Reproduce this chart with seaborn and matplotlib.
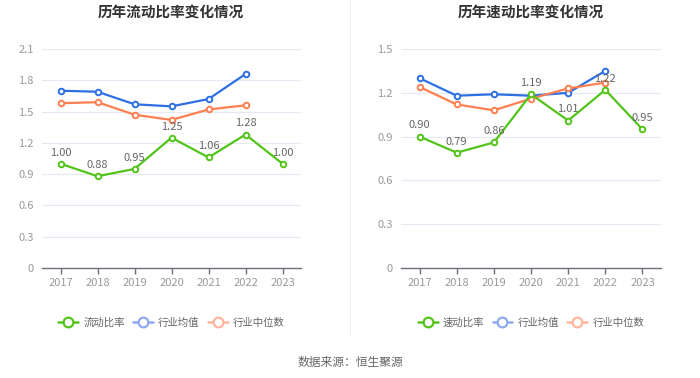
import numpy as np
import pandas as pd
import matplotlib
matplotlib.use("Agg")
import matplotlib.pyplot as plt
from matplotlib.lines import Line2D
import seaborn as sns

years = ['2017', '2018', '2019', '2020', '2021', '2022', '2023']

# 流动比率
current_ratio = [1.00, 0.88, 0.95, 1.25, 1.06, 1.28, 1.00]
current_avg = [1.70, 1.69, 1.57, 1.55, 1.62, 1.86]
current_median = [1.58, 1.59, 1.47, 1.42, 1.52, 1.56]

# 速动比率
quick_ratio = [0.90, 0.79, 0.86, 1.19, 1.01, 1.22, 0.95]
quick_avg = [1.30, 1.18, 1.19, 1.18, 1.20, 1.35]
quick_median = [1.24, 1.12, 1.08, 1.16, 1.23, 1.27]

GREEN = '#52C41A'
BLUE = '#2F6FE4'
ORANGE = '#FF7F50'
BLUE_LIGHT = '#8DAAF2'
ORANGE_LIGHT = '#FFB59E'

sns.set_style("white")
plt.rcParams['font.family'] = ['Noto Sans CJK SC', 'DejaVu Sans']


def draw_panel(ax, title, main_name, main_vals, avg_vals, med_vals, ymax, title_x):
    x = np.arange(len(years))
    df = pd.DataFrame({'x': x, 'main': main_vals})
    df_ind = pd.DataFrame({'x': x[:len(avg_vals)], 'avg': avg_vals, 'med': med_vals})

    style = dict(marker='o', markersize=4, markerfacecolor='white',
                 markeredgewidth=1.4, linewidth=1.6)
    sns.lineplot(data=df_ind, x='x', y='avg', ax=ax, color=BLUE,
                 markeredgecolor=BLUE, zorder=3, **style)
    sns.lineplot(data=df_ind, x='x', y='med', ax=ax, color=ORANGE,
                 markeredgecolor=ORANGE, zorder=3, **style)
    sns.lineplot(data=df, x='x', y='main', ax=ax, color=GREEN,
                 markeredgecolor=GREEN, zorder=4, **style)

    for xi, v in zip(x, main_vals):
        ax.annotate(f'{v:.2f}', (xi, v), xytext=(0, 8), textcoords='offset points',
                    ha='center', va='center', fontsize=8, color='#666666', zorder=5)

    ax.set_xlim(-0.5, len(years) - 0.5)
    ax.set_ylim(0, ymax)
    yt = np.round(np.arange(0, ymax + 0.001, 0.3), 1)
    ax.set_yticks(yt)
    ax.set_yticklabels(['0' if t == 0 else f'{t:.1f}' for t in yt])
    ax.set_xticks(x)
    ax.set_xticklabels(years)
    ax.set_xlabel('')
    ax.set_ylabel('')
    ax.grid(axis='y', color='#E6E9F2', linewidth=0.9)
    ax.grid(axis='x', visible=False)
    for s in ['top', 'right', 'left']:
        ax.spines[s].set_visible(False)
    ax.spines['bottom'].set_color('#6E7079')
    ax.spines['bottom'].set_linewidth(1.0)
    ax.tick_params(axis='x', colors='#6E7079', labelcolor='#999999', labelsize=8,
                   length=4, width=1, direction='out', pad=3, bottom=True)
    ax.tick_params(axis='y', labelcolor='#999999', labelsize=8, length=0, pad=6)

    handles = [
        Line2D([], [], color=GREEN, marker='o', markersize=7, markerfacecolor='white',
               markeredgecolor=GREEN, markeredgewidth=1.6, linewidth=1.8),
        Line2D([], [], color=BLUE_LIGHT, marker='o', markersize=7, markerfacecolor='white',
               markeredgecolor=BLUE_LIGHT, markeredgewidth=1.6, linewidth=1.8),
        Line2D([], [], color=ORANGE_LIGHT, marker='o', markersize=7, markerfacecolor='white',
               markeredgecolor=ORANGE_LIGHT, markeredgewidth=1.6, linewidth=1.8),
    ]
    leg = ax.legend(handles, [main_name, '行业均值', '行业中位数'], loc='center',
                    bbox_to_anchor=(0.5, -0.25), ncol=3, frameon=False, fontsize=7.5,
                    handlelength=1.9, handletextpad=0.5, columnspacing=0.8)
    for t in leg.get_texts():
        t.set_color('#666666')

    ax.figure.text(title_x, 1 - 12 / 378, title, ha='center', va='center',
                   fontsize=10.5, fontweight='bold', color='#333333')


fig = plt.figure(figsize=(7, 3.78), dpi=100)
ax1 = fig.add_axes([42 / 700, 1 - 268 / 378, 259 / 700, 219 / 378])
ax2 = fig.add_axes([401 / 700, 1 - 268 / 378, 260 / 700, 219 / 378])

draw_panel(ax1, '历年流动比率变化情况', '流动比率', current_ratio, current_avg,
           current_median, 2.1, 171 / 700)
draw_panel(ax2, '历年速动比率变化情况', '速动比率', quick_ratio, quick_avg,
           quick_median, 1.5, 531 / 700)

fig.add_artist(Line2D([350 / 700, 350 / 700], [1 - 335 / 378, 1], color='#EEEEEE',
                      linewidth=0.8, transform=fig.transFigure))
fig.text(350 / 700, 1 - 362 / 378, '数据来源：恒生聚源', ha='center', va='center',
         fontsize=8.5, color='#666666')

fig.savefig('out.png', dpi=100)
